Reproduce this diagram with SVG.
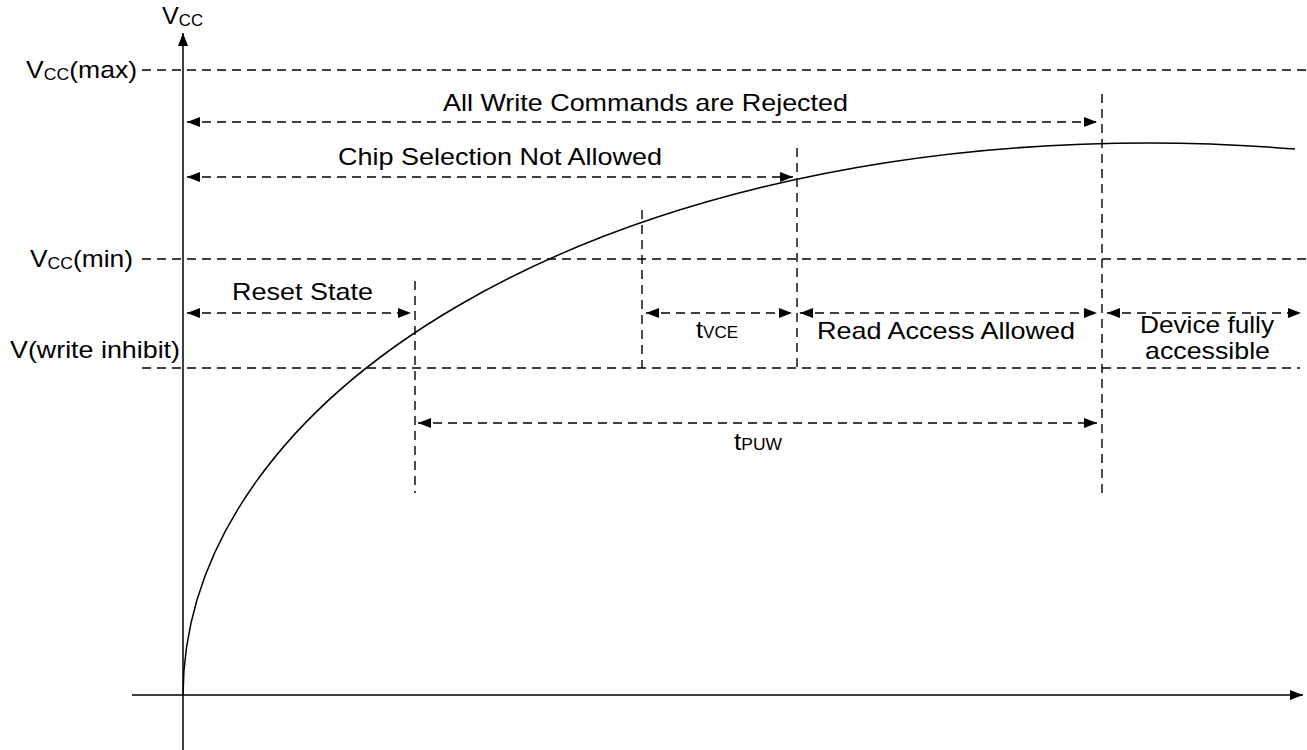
<svg xmlns="http://www.w3.org/2000/svg" width="1307" height="750" viewBox="0 0 1307 750">
<style>
.t{font-family:"Liberation Sans",Arial,sans-serif;font-size:24px;fill:#000}
.s{font-size:16px}
.d{stroke:#000;stroke-width:1.4;stroke-dasharray:9,6;fill:none}
.a{stroke:#000;stroke-width:1.5;fill:none}
</style>
<defs>
<marker id="ah" markerUnits="userSpaceOnUse" markerWidth="14" markerHeight="12" refX="13" refY="5" orient="auto-start-reverse">
<path d="M0,0 L13,5 L0,10 z" fill="#000"/>
</marker>
</defs>
<g id="axes">
<line class="a" x1="183" y1="750" x2="183" y2="33" marker-end="url(#ah)"/>
<line class="a" x1="132" y1="695" x2="1303" y2="695" marker-end="url(#ah)"/>
</g>
<g id="levels">
<line class="d" x1="142" y1="70" x2="1307" y2="70"/>
<line class="d" x1="142" y1="259" x2="1307" y2="259"/>
<line class="d" x1="142" y1="368" x2="1300" y2="368"/>
</g>
<g id="curve">
<path class="a" d="M183,695 C184,395 590,143 1150,143 Q1220,143 1295,149"/>
</g>
<g id="markers">
<line class="d" x1="415" y1="281" x2="415" y2="493"/>
<line class="d" x1="642" y1="210" x2="642" y2="368"/>
<line class="d" x1="797" y1="148" x2="797" y2="368"/>
<line class="d" x1="1102" y1="94" x2="1102" y2="493"/>
</g>
<g id="connectors">
<line class="d" x1="187" y1="122" x2="1097" y2="122" marker-start="url(#ah)" marker-end="url(#ah)"/>
<line class="d" x1="187" y1="177" x2="793" y2="177" marker-start="url(#ah)" marker-end="url(#ah)"/>
<line class="d" x1="187" y1="313" x2="411" y2="313" marker-start="url(#ah)" marker-end="url(#ah)"/>
<line class="d" x1="646" y1="313" x2="792" y2="313" marker-start="url(#ah)" marker-end="url(#ah)"/>
<line class="d" x1="800" y1="313" x2="1097" y2="313" marker-start="url(#ah)" marker-end="url(#ah)"/>
<line class="d" x1="1107" y1="313" x2="1301" y2="313" marker-start="url(#ah)" marker-end="url(#ah)"/>
<line class="d" x1="418" y1="423" x2="1097" y2="423" marker-start="url(#ah)" marker-end="url(#ah)"/>
</g>
<g id="labels">
<text class="t" x="162" y="24" textLength="41" lengthAdjust="spacingAndGlyphs">V<tspan class="s" dy="2">CC</tspan></text>
<text class="t" x="26" y="78" textLength="111" lengthAdjust="spacingAndGlyphs">V<tspan class="s" dy="2">CC</tspan><tspan dy="-2">(max)</tspan></text>
<text class="t" x="30" y="267" textLength="103" lengthAdjust="spacingAndGlyphs">V<tspan class="s" dy="2">CC</tspan><tspan dy="-2">(min)</tspan></text>
<text class="t" x="10" y="358" textLength="170" lengthAdjust="spacingAndGlyphs">V(write inhibit)</text>
<text class="t" x="443" y="111" textLength="405" lengthAdjust="spacingAndGlyphs">All Write Commands are Rejected</text>
<text class="t" x="338" y="165" textLength="324" lengthAdjust="spacingAndGlyphs">Chip Selection Not Allowed</text>
<text class="t" x="232" y="300" textLength="141" lengthAdjust="spacingAndGlyphs">Reset State</text>
<text class="t" x="696" y="338" textLength="42" lengthAdjust="spacingAndGlyphs">t<tspan class="s">VCE</tspan></text>
<text class="t" x="817" y="339" textLength="258" lengthAdjust="spacingAndGlyphs">Read Access Allowed</text>
<text class="t" x="1140" y="333" textLength="134" lengthAdjust="spacingAndGlyphs">Device fully</text>
<text class="t" x="1145" y="359" textLength="125" lengthAdjust="spacingAndGlyphs">accessible</text>
<text class="t" x="734" y="450" textLength="48" lengthAdjust="spacingAndGlyphs">t<tspan class="s">PUW</tspan></text>
</g>
</svg>
